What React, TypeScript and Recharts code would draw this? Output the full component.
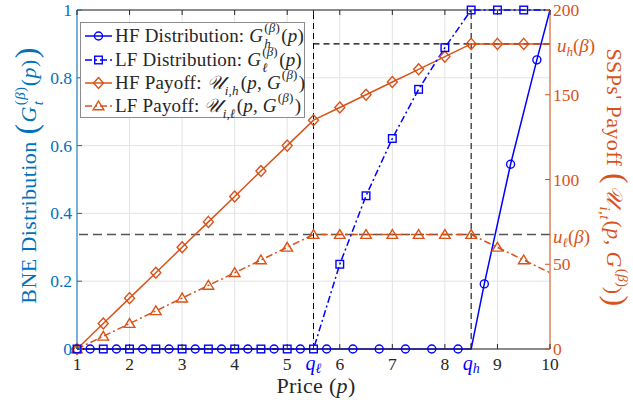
import React from "react";
import { ComposedChart, Line, XAxis, YAxis, CartesianGrid, ReferenceLine } from "recharts";

const W = 633;
const H = 406;
const PL = 77;
const PR = 550;
const PT = 10;
const PB = 349;
const BLUE = "#0000ff";
const AXBLUE = "#0072bd";
const ORANGE = "#d95319";
const INK = "#262626";
const FONT = "'Liberation Serif', 'Times New Roman', serif";

// thresholds
const qLow = 5.5;
const qHigh = 8.5;
const uLow = 67.5;
const uHigh = 180;

// HF distribution (markers sit on the quarter points)
const priceHfDist = [1, 1.25, 1.75, 2.25, 2.75, 3.25, 3.75, 4.25, 4.75, 5.25, 5.75, 6.25, 6.75, 7.25, 7.75, 8.25, 8.5, 8.75, 9.25, 9.75, 10];
const hfDist = [0, 0, 0, 0, 0, 0, 0, 0, 0, 0, 0, 0, 0, 0, 0, 0, 0, 0.192, 0.545, 0.853, 1];
const hfDistNoMark = [1, 8.5, 10];

// the other three series share the half-unit grid
const price = [1, 1.5, 2, 2.5, 3, 3.5, 4, 4.5, 5, 5.5, 6, 6.5, 7, 7.5, 8, 8.5, 9, 9.5, 10];
const lfDist = [0, 0, 0, 0, 0, 0, 0, 0, 0, 0, 0.25, 0.452, 0.621, 0.766, 0.889, 1, 1, 1, 1];
const hfPayoff = [0, 15, 30, 45, 60, 75, 90, 105, 120, 135, 142.5, 150, 157.5, 165, 172.5, 180, 180, 180, 180];
const lfPayoff = [0, 7.5, 15, 22.5, 30, 37.5, 45, 52.5, 60, 67.5, 67.5, 67.5, 67.5, 67.5, 67.5, 67.5, 60, 52.5, 45];
const halfNoMark = [10];

const xTicks = [1, 2, 3, 4, 5, qLow, 6, 7, 8, qHigh, 9, 10];
const leftTicks = [0, 0.2, 0.4, 0.6, 0.8, 1];
const rightTicks = [0, 50, uLow, 100, 150, uHigh, 200];

const rows = new Map<number, any>();
const put = (xs: number[], ys: number[], key: string) =>
  xs.forEach((x, i) => {
    const r = rows.get(x) ?? { p: x };
    r[key] = ys[i];
    rows.set(x, r);
  });
put(priceHfDist, hfDist, "hfDist");
put(price, lfDist, "lfDist");
put(price, hfPayoff, "hfPayoff");
put(price, lfPayoff, "lfPayoff");
const table = [...rows.values()].sort((a, b) => a.p - b.p);

const DASHDOT = "7 3 2 3";

function Marker({ shape, cx, cy, color }: any) {
  if (shape === "circle") return <circle cx={cx} cy={cy} r={4} fill="none" stroke={color} strokeWidth={1.4} />;
  if (shape === "square") return <rect x={cx - 3.8} y={cy - 3.8} width={7.6} height={7.6} fill="none" stroke={color} strokeWidth={1.4} />;
  if (shape === "diamond")
    return (
      <polygon
        points={`${cx},${cy - 5.5} ${cx + 5} ${cy} ${cx},${cy + 5.5} ${cx - 5},${cy}`}
        fill="none"
        stroke={color}
        strokeWidth={1.4}
      />
    );
  return (
    <polygon
      points={`${cx},${cy - 5} ${cx + 5.3},${cy + 3.8} ${cx - 5.3},${cy + 3.8}`}
      fill="none"
      stroke={color}
      strokeWidth={1.4}
    />
  );
}

const dot = (shape: string, color: string, noMark: number[]) => (props: any) => {
  const { cx, cy, payload, index } = props;
  const k = `${shape}-${index}`;
  if (cx == null || cy == null || payload == null || noMark.includes(payload.p)) return <g key={k} />;
  return (
    <g key={k}>
      <Marker shape={shape} cx={cx} cy={cy} color={color} />
    </g>
  );
};

const BottomTick = (props: any) => {
  const { x, payload } = props;
  const v = payload.value;
  const q = v === qLow ? "ℓ" : v === qHigh ? "h" : null;
  return (
    <g fontFamily={FONT}>
      <line x1={x} x2={x} y1={PB} y2={PB - 5} stroke={INK} />
      <line x1={x} x2={x} y1={PT} y2={PT + 5} stroke={INK} />
      {q ? (
        <text x={x} y={PB + 21} textAnchor="middle" fill={BLUE} fontSize={20}>
          <tspan fontStyle="italic">q</tspan>
          <tspan fontStyle="italic" fontSize={14} dy={3}>
            {q}
          </tspan>
        </text>
      ) : (
        <text x={x} y={PB + 21} textAnchor="middle" fill={INK} fontSize={17.5}>
          {v}
        </text>
      )}
    </g>
  );
};

const LeftTick = (props: any) => {
  const { y, payload } = props;
  return (
    <g fontFamily={FONT}>
      <line x1={PL} x2={PL + 5} y1={y} y2={y} stroke={AXBLUE} />
      <text x={PL - 5} y={y + 6} textAnchor="end" fill={AXBLUE} fontSize={17.5}>
        {payload.value}
      </text>
    </g>
  );
};

const RightTick = (props: any) => {
  const { y, payload } = props;
  const v = payload.value;
  if (v === uLow || v === uHigh) {
    return (
      <text x={v === uHigh ? PR + 7 : PR + 3} y={y + 8} fill={ORANGE} fontSize={19} fontFamily={FONT}>
        <tspan fontStyle="italic">u</tspan>
        <tspan fontStyle="italic" fontSize={13} dy={4}>
          {v === uHigh ? "h" : "ℓ"}
        </tspan>
        <tspan dy={-4}>(</tspan>
        <tspan fontStyle="italic">β</tspan>
        <tspan>)</tspan>
      </text>
    );
  }
  return (
    <g fontFamily={FONT}>
      <line x1={PR} x2={PR - 5} y1={y} y2={y} stroke={ORANGE} />
      <text x={PR + 3} y={y + 6} fill={ORANGE} fontSize={17.5}>
        {v}
      </text>
    </g>
  );
};

const I = ({ children }: any) => <span style={{ fontStyle: "italic" }}>{children}</span>;

function Scr({ sup, sub, fs, w }: { sup?: React.ReactNode; sub?: React.ReactNode; fs: number; w: number }) {
  const s = Math.round(fs * 0.68);
  const h = fs * 0.7;
  return (
    <span style={{ position: "relative", display: "inline-block", width: w, height: h, marginLeft: 1 }}>
      {sup && (
        <span style={{ position: "absolute", left: 0, bottom: fs * 0.38, fontSize: s, lineHeight: 1, whiteSpace: "nowrap" }}>
          {sup}
        </span>
      )}
      {sub && (
        <span style={{ position: "absolute", left: 0, top: h - fs * 0.22, fontSize: s, lineHeight: 1, whiteSpace: "nowrap" }}>
          {sub}
        </span>
      )}
    </span>
  );
}

const Big = ({ children }: any) => (
  <span style={{ fontSize: "1.45em", lineHeight: 0, position: "relative", top: "0.04em", margin: "0 1px" }}>{children}</span>
);

const beta = (
  <>
    (<I>β</I>)
  </>
);

const LFS = 19;

const legendItems = [
  {
    shape: "circle",
    color: BLUE,
    dash: undefined,
    label: (
      <>
        HF Distribution: <I>G</I>
        <Scr fs={LFS} w={17} sup={beta} sub={<I>h</I>} />(<I>p</I>)
      </>
    ),
  },
  {
    shape: "square",
    color: BLUE,
    dash: DASHDOT,
    label: (
      <>
        LF Distribution: <I>G</I>
        <Scr fs={LFS} w={17} sup={beta} sub={<I>ℓ</I>} />(<I>p</I>)
      </>
    ),
  },
  {
    shape: "diamond",
    color: ORANGE,
    dash: undefined,
    label: (
      <>
        HF Payoff: <I>𝒰</I>
        <Scr fs={LFS} w={16} sub={<I>i,h</I>} />(<I>p</I>, <I>G</I>
        <Scr fs={LFS} w={17} sup={beta} />)
      </>
    ),
  },
  {
    shape: "triangle",
    color: ORANGE,
    dash: DASHDOT,
    label: (
      <>
        LF Payoff: <I>𝒰</I>
        <Scr fs={LFS} w={14} sub={<I>i,ℓ</I>} />(<I>p</I>, <I>G</I>
        <Scr fs={LFS} w={17} sup={beta} />)
      </>
    ),
  },
];

function LegendBox() {
  return (
    <div
      style={{
        position: "absolute",
        left: 80,
        top: 22,
        width: 225,
        height: 96,
        background: "#fff",
        border: "1px solid #8c8c8c",
        fontFamily: FONT,
        fontSize: LFS,
        color: INK,
        boxSizing: "border-box",
        paddingTop: 1,
      }}
    >
      {legendItems.map((it, i) => (
        <div key={i} style={{ display: "flex", alignItems: "center", height: 23, whiteSpace: "nowrap", marginTop: i === 1 ? 1 : 0 }}>
          <svg width={31} height={20} style={{ flex: "none", marginLeft: 2 }}>
            <line x1={2} x2={29} y1={10} y2={10} stroke={it.color} strokeWidth={1.5} strokeDasharray={it.dash} />
            <Marker shape={it.shape} cx={15.5} cy={10} color={it.color} />
          </svg>
          <span style={{ marginLeft: 1, letterSpacing: 0.2 }}>{it.label}</span>
        </div>
      ))}
    </div>
  );
}

export default function App() {
  return (
    <div style={{ position: "absolute", left: 0, top: 0, width: W, height: H, background: "#fff", overflow: "hidden" }}>
      <ComposedChart width={W} height={H} data={table} margin={{ top: PT, right: 0, bottom: 0, left: 0 }}>
        <CartesianGrid yAxisId="left" stroke="#e3e3e3" />
        <XAxis
          dataKey="p"
          type="number"
          domain={[1, 10]}
          ticks={xTicks}
          interval={0}
          height={H - PB}
          axisLine={{ stroke: INK }}
          tickLine={false}
          tick={<BottomTick />}
        />
        <YAxis
          yAxisId="left"
          domain={[0, 1]}
          ticks={leftTicks}
          interval={0}
          width={PL}
          axisLine={{ stroke: AXBLUE }}
          tickLine={false}
          tick={<LeftTick />}
        />
        <YAxis
          yAxisId="right"
          orientation="right"
          domain={[0, 200]}
          ticks={rightTicks}
          interval={0}
          width={W - PR}
          axisLine={{ stroke: ORANGE }}
          tickLine={false}
          tick={<RightTick />}
        />
        <ReferenceLine yAxisId="left" y={1} stroke={INK} strokeWidth={1} />
        <ReferenceLine yAxisId="left" x={qLow} stroke="#000" strokeDasharray="6 4" />
        <ReferenceLine yAxisId="left" x={qHigh} stroke="#000" strokeDasharray="6 4" />
        <ReferenceLine
          yAxisId="right"
          segment={[
            { x: qLow, y: uHigh },
            { x: 10, y: uHigh },
          ]}
          stroke="#000"
          strokeWidth={1.2}
          strokeDasharray="6 4"
        />
        <ReferenceLine yAxisId="right" y={uLow} stroke="#555" strokeWidth={1.5} strokeDasharray="9 5" />

        <Line
          yAxisId="right"
          dataKey="hfPayoff"
          type="linear"
          stroke={ORANGE}
          strokeWidth={1.5}
          connectNulls
          dot={dot("diamond", ORANGE, halfNoMark)}
          activeDot={false}
          isAnimationActive={false}
        />
        <Line
          yAxisId="right"
          dataKey="lfPayoff"
          type="linear"
          stroke={ORANGE}
          strokeWidth={1.5}
          strokeDasharray={DASHDOT}
          connectNulls
          dot={dot("triangle", ORANGE, halfNoMark)}
          activeDot={false}
          isAnimationActive={false}
        />
        <Line
          yAxisId="left"
          dataKey="lfDist"
          type="linear"
          stroke={BLUE}
          strokeWidth={1.5}
          strokeDasharray={DASHDOT}
          connectNulls
          dot={dot("square", BLUE, halfNoMark)}
          activeDot={false}
          isAnimationActive={false}
        />
        <Line
          yAxisId="left"
          dataKey="hfDist"
          type="linear"
          stroke={BLUE}
          strokeWidth={1.5}
          connectNulls
          dot={dot("circle", BLUE, hfDistNoMark)}
          activeDot={false}
          isAnimationActive={false}
        />
      </ComposedChart>

      <LegendBox />

      <div
        style={{
          position: "absolute",
          left: 29,
          top: 175,
          transform: "translate(-50%, -50%) rotate(-90deg)",
          whiteSpace: "nowrap",
          fontFamily: FONT,
          fontSize: 22,
          letterSpacing: 0.4,
          lineHeight: "26px",
          color: AXBLUE,
        }}
      >
        BNE Distribution <Big>(</Big>
        <I>G</I>
        <Scr fs={22} w={19} sup={beta} sub={<I>t</I>} />(<I>p</I>)<Big>)</Big>
      </div>

      <div
        style={{
          position: "absolute",
          left: 614,
          top: 178,
          transform: "translate(-50%, -50%) rotate(90deg)",
          whiteSpace: "nowrap",
          fontFamily: FONT,
          fontSize: 22,
          letterSpacing: 0.4,
          lineHeight: "26px",
          color: ORANGE,
        }}
      >
        SSPs' Payoff <Big>(</Big>
        <I>𝒰</I>
        <Scr fs={22} w={14} sub={<I>i,t</I>} />(<I>p</I>, <I>G</I>
        <Scr fs={22} w={18} sup={beta} />)<Big>)</Big>
      </div>

      <div
        style={{
          position: "absolute",
          left: 316,
          top: 386,
          transform: "translate(-50%, -50%)",
          whiteSpace: "nowrap",
          fontFamily: FONT,
          fontSize: 22,
          letterSpacing: 0.3,
          color: INK,
        }}
      >
        Price (<I>p</I>)
      </div>
    </div>
  );
}
